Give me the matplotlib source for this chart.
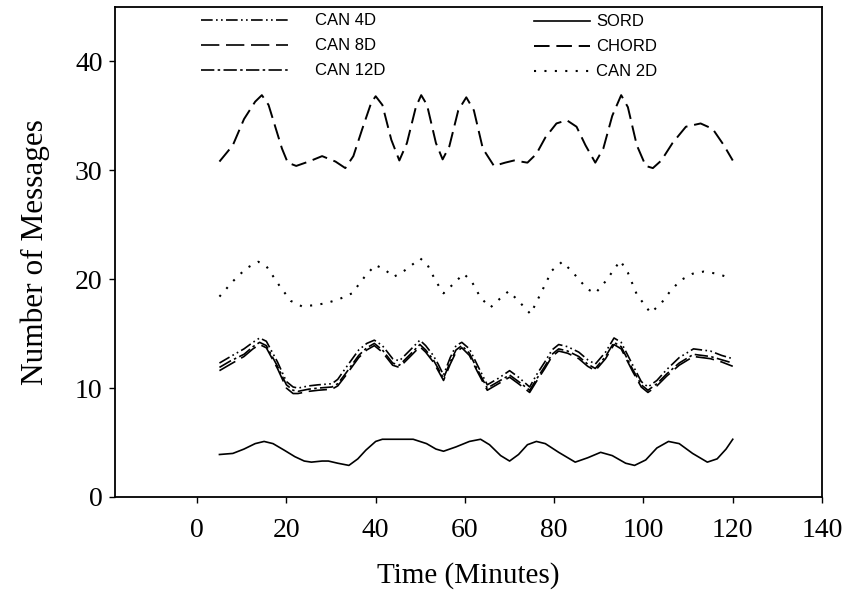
import matplotlib.pyplot as plt

# time axis (minutes) and values
chord_t = [5, 8, 10.5, 13, 14.5, 16, 17.5, 19, 20.3, 22.2, 25, 28, 31, 33.2, 35, 37, 39, 40,
           41.5, 43.5, 45.3, 47, 49, 50.2, 51.5, 53.5, 55, 56.5, 58.5, 60.3, 62, 64, 66.5, 69,
           71, 74, 76, 78, 80.5, 82.8, 85, 87, 89.2, 91, 93, 95, 96.5, 98.5, 100.5, 102.1,
           104, 106.5, 109.5, 112.8, 115.5, 118, 120]
chord = [30.8, 32.3, 34.7, 36.3, 36.9, 36.0, 34.0, 32.0, 30.7, 30.4, 30.8, 31.3, 30.8, 30.2,
         31.3, 33.8, 36.2, 36.8, 36.0, 32.8, 30.9, 32.5, 35.8, 36.9, 36.0, 32.5, 31.0, 32.2,
         35.5, 36.7, 35.5, 32.0, 30.4, 30.7, 30.9, 30.7, 31.5, 33.0, 34.3, 34.6, 34.0, 32.3,
         30.7, 32.0, 35.0, 36.9, 35.8, 32.3, 30.4, 30.2, 30.9, 32.5, 34.0, 34.3, 33.8, 32.3, 30.9]

can2d_t = [5, 8, 11, 13.7, 15.5, 18.6, 21, 23.5, 26, 29, 32, 34.7, 37.5, 39.9, 42, 44, 46.5,
           50, 51.5, 53.5, 55.2, 57.5, 59.7, 61.5, 63.5, 65.7, 67.8, 69.8, 72, 74.7, 77, 79.5,
           81.8, 84, 87.4, 89.2, 91.5, 94.8, 96.5, 98.5, 101.6, 104, 106, 108.3, 111, 113.5,
           116.5, 119.5]
can2d = [18.4, 19.8, 21.0, 21.6, 21.2, 19.3, 18.0, 17.5, 17.6, 17.8, 18.2, 18.7, 20.2, 21.3,
         20.9, 20.2, 20.8, 21.9, 21.4, 19.8, 18.7, 19.6, 20.5, 19.8, 18.3, 17.4, 18.2, 18.9,
         18.0, 16.8, 18.7, 20.8, 21.6, 20.7, 19.1, 18.7, 19.8, 21.7, 20.6, 18.6, 16.9, 17.8,
         18.9, 19.9, 20.5, 20.7, 20.5, 20.1]

sord_t = [5, 8, 10.5, 13, 15, 17, 19.5, 21.9, 24, 25.6, 28, 29.4, 31.5, 34, 36, 37.8, 40,
          41.5, 45, 48.4, 51.4, 53.5, 55.2, 58, 61, 63.5, 65.5, 68, 70, 72, 74, 76, 78, 81,
          84.7, 87.5, 90.4, 93, 96, 98, 100.5, 103, 105.6, 108, 111, 114.3, 116.5, 118.5, 120]
sord = [3.9, 4.0, 4.4, 4.9, 5.1, 4.9, 4.3, 3.7, 3.3, 3.2, 3.3, 3.3, 3.1, 2.9, 3.5, 4.3, 5.1,
        5.3, 5.3, 5.3, 4.9, 4.4, 4.2, 4.6, 5.1, 5.3, 4.8, 3.8, 3.3, 3.9, 4.8, 5.1, 4.9, 4.1,
        3.2, 3.6, 4.1, 3.8, 3.1, 2.9, 3.4, 4.5, 5.1, 4.9, 4.0, 3.2, 3.5, 4.4, 5.3]

can_t = [5, 7.5, 10.5, 12.5, 14, 15.5, 18, 20, 21.5, 22.6, 25, 27.1, 30.2, 31.5, 33.2, 36.2,
         38, 39.7, 41.5, 43.8, 45.3, 47.5, 49.9, 51.2, 52.9, 54, 55.2, 56.7, 58, 59.3, 61,
         62.8, 65, 67.5, 70, 72, 74.5, 76, 77.9, 79.5, 81, 83, 85.5, 87.5, 89.2, 91.5, 93.4,
         95, 97.6, 99.5, 101, 103, 105.2, 108, 111.2, 115, 117.5, 120]
can4d = [12.3, 12.9, 13.6, 14.2, 14.6, 14.3, 12.4, 10.6, 10.1, 10.0, 10.2, 10.3, 10.4, 10.8,
         11.8, 13.5, 14.1, 14.4, 13.9, 12.7, 12.5, 13.4, 14.4, 13.9, 13.0, 12.2, 11.2, 12.8,
         13.9, 14.2, 13.6, 12.1, 10.3, 10.9, 11.6, 11.0, 10.1, 11.2, 12.4, 13.5, 14.0, 13.8,
         13.3, 12.6, 12.2, 13.3, 14.6, 14.2, 12.1, 10.6, 10.1, 10.7, 11.7, 12.8, 13.6, 13.4,
         13.0, 12.7]
can8d = [11.6, 12.2, 12.9, 13.6, 14.0, 13.7, 11.8, 10.0, 9.5, 9.5, 9.7, 9.8, 9.9, 10.2, 11.1,
         12.8, 13.5, 13.9, 13.3, 12.1, 11.9, 12.8, 13.8, 13.3, 12.4, 11.6, 10.7, 12.2, 13.3,
         13.7, 13.0, 11.5, 9.8, 10.4, 11.0, 10.4, 9.6, 10.6, 11.8, 12.9, 13.4, 13.2, 12.7,
         12.0, 11.6, 12.7, 14.0, 13.6, 11.5, 10.1, 9.6, 10.2, 11.1, 12.1, 12.9, 12.7, 12.4, 12.0]
can12d = [11.9, 12.5, 13.1, 13.8, 14.2, 13.9, 12.0, 10.3, 9.8, 9.7, 9.9, 10.0, 10.1, 10.4, 11.3,
          13.0, 13.7, 14.1, 13.5, 12.3, 12.1, 13.0, 14.0, 13.5, 12.6, 11.8, 10.9, 12.4, 13.5,
          13.9, 13.2, 11.7, 10.0, 10.6, 11.2, 10.6, 9.8, 10.8, 12.0, 13.1, 13.6, 13.4, 12.9,
          12.2, 11.8, 12.9, 14.2, 13.8, 11.7, 10.3, 9.8, 10.4, 11.3, 12.3, 13.1, 12.9, 12.6, 12.3]

x_ticks = [0, 20, 40, 60, 80, 100, 120, 140]
y_ticks = [0, 10, 20, 30, 40]


def create_chart():
    fig = plt.figure(figsize=(8.5, 6.08), dpi=100)
    ax = fig.add_axes([0.1353, 0.1826, 0.8318, 0.806])
    lw = 1.2

    h4, = ax.plot(can_t, can4d, color='black', lw=lw, ls=(0, (7, 2, 1, 2, 1, 2)), label='CAN 4D')
    h8, = ax.plot(can_t, can8d, color='black', lw=lw, ls=(0, (11, 4)), label='CAN 8D')
    h12, = ax.plot(can_t, can12d, color='black', lw=lw, ls=(0, (8, 2, 1.5, 2)), label='CAN 12D')
    hs, = ax.plot(sord_t, sord, color='black', lw=lw, ls='-', label='SORD')
    hc, = ax.plot(chord_t, chord, color='black', lw=lw + 0.2, ls=(0, (8, 3.5)), label='CHORD')
    h2, = ax.plot(can2d_t, can2d, color='black', lw=lw + 0.3, ls=(0, (1, 4)), label='CAN 2D')

    ax.set_xlim(-18.4, 140)
    ax.set_ylim(0, 45)
    ax.set_xticks(x_ticks)
    ax.set_yticks(y_ticks)
    ax.tick_params(direction='out', length=4, width=1, labelsize=20)
    ax.tick_params(axis='x', pad=11)
    ax.tick_params(axis='y', pad=5)
    for lab in ax.get_xticklabels() + ax.get_yticklabels():
        lab.set_family('Liberation Serif')
    for sp in ax.spines.values():
        sp.set_linewidth(1.3)

    ax.set_xlabel('Time (Minutes)', family='Liberation Serif', fontsize=21, labelpad=14)
    ax.set_ylabel('Number of Messages', family='Liberation Serif', fontsize=22.5, labelpad=18)

    leg_font = {'family': 'Liberation Sans', 'size': 12}
    left = ax.legend(handles=[h4, h8, h12], loc='upper left', bbox_to_anchor=(0.115, 0.997),
                     frameon=False, prop=leg_font, handlelength=5.2, handletextpad=1.6,
                     labelspacing=0.6, borderpad=0.3, borderaxespad=0)
    ax.add_artist(left)
    ax.legend(handles=[hs, hc, h2], loc='upper left', bbox_to_anchor=(0.585, 0.995),
              frameon=False, prop=leg_font, handlelength=3.4, handletextpad=0.35,
              labelspacing=0.6, borderpad=0.3, borderaxespad=0)

    plt.savefig('out.png', dpi=100)


create_chart()
